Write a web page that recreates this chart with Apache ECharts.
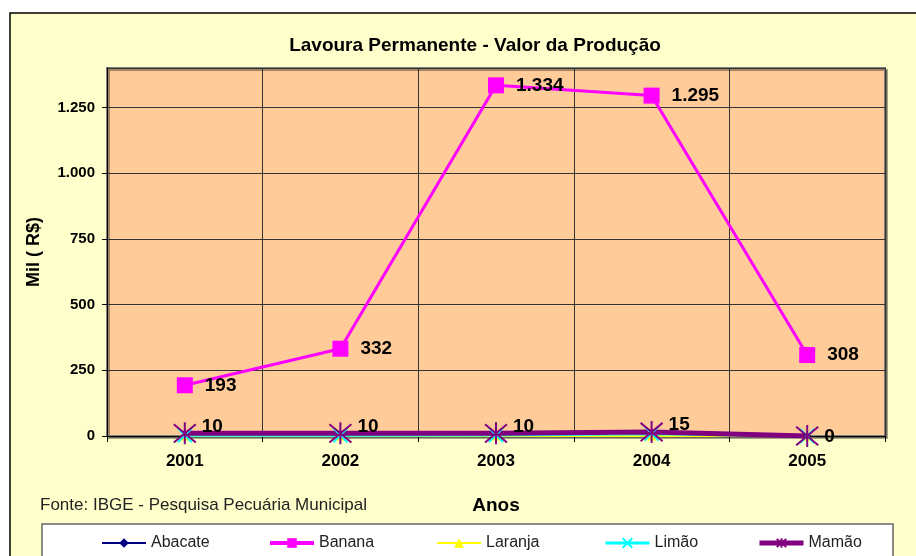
<!DOCTYPE html>
<html>
<head>
<meta charset="utf-8">
<script src="https://cdn.jsdelivr.net/npm/echarts@6/dist/echarts.min.js"></script>
<style>
html,body{margin:0;padding:0;background:#fff;}
#c{width:916px;height:556px;}
</style>
</head>
<body>
<div id="c"></div>
<script>
var years = ['2001', '2002', '2003', '2004', '2005'];
var abacate = [0, 0, 0, 0, 0];
var banana = [193, 332, 1334, 1295, 308];
var laranja = [0, 0, 0, 0, 0];
var limao = [3, 3, 4, 9, 0];
var mamao = [10, 10, 10, 15, 0];
var yTicks = [0, 250, 500, 750, 1000, 1250];

function fmt(v) {
  return String(v).replace(/\B(?=(\d{3})+(?!\d))/g, '.');
}

var FONT = '"Liberation Sans", Arial, sans-serif';
var chart = echarts.init(document.getElementById('c'));

var mamaoData = mamao.map(function (v, i) {
  return { value: v, label: { offset: i < mamao.length - 1 ? [0, -7] : [0, 1] } };
});

var asterisk = 'path://M0,0L10,10M10,0L0,10M5,-1L5,11';
var cross = 'path://M0,0L10,10M10,0L0,10';

function legendAt(x, name, lw) {
  return {
    left: x, top: 535, padding: 0, data: [name],
    itemWidth: 44, itemHeight: 12, itemGap: 4,
    lineStyle: { width: lw },
    textStyle: { fontFamily: FONT, fontSize: 16, color: '#222' }
  };
}

chart.setOption({
  backgroundColor: '#ffffff',
  animation: false,
  title: {
    text: 'Lavoura Permanente - Valor da Produção',
    left: 475, top: 36, textAlign: 'center', padding: 0,
    textStyle: { fontFamily: FONT, fontSize: 19, fontWeight: 'bold', color: '#000' }
  },
  graphic: [
    { type: 'rect', z: -10, shape: { x: 10, y: 13, width: 930, height: 560 },
      style: { fill: '#FFFFCC', stroke: '#000', lineWidth: 1.5 } },
    { type: 'rect', z: 1, shape: { x: 42, y: 524, width: 851, height: 50 },
      style: { fill: '#ffffff', stroke: '#666', lineWidth: 1.5 } },
    { type: 'text', left: 40, top: 497, z: 2,
      style: { text: 'Fonte: IBGE - Pesquisa Pecuária Municipal', font: '17px ' + FONT, fill: '#222' } }
  ],
  legend: [
    legendAt(101, 'Abacate', 2),
    legendAt(268, 'Banana', 4),
    legendAt(436, 'Laranja', 2),
    legendAt(604, 'Limão', 3),
    legendAt(757, 'Mamão', 5)
  ],
  grid: {
    left: 107, top: 68, width: 778, height: 368,
    show: true, backgroundColor: '#FFCC99',
    borderColor: '#808080', borderWidth: 2,
    shadowColor: 'rgba(0,0,0,0.35)', shadowOffsetX: 2, shadowOffsetY: 2, shadowBlur: 0
  },
  xAxis: {
    type: 'category', data: years, boundaryGap: true,
    name: 'Anos', nameLocation: 'middle', nameGap: 60,
    nameTextStyle: { fontFamily: FONT, fontSize: 19, fontWeight: 'bold', color: '#000' },
    axisLine: { lineStyle: { color: '#000', width: 1 } },
    axisTick: { show: true, length: 6, lineStyle: { color: '#000' } },
    axisLabel: { fontFamily: FONT, fontSize: 17, fontWeight: 'bold', color: '#000', margin: 17 },
    splitLine: { show: true, lineStyle: { color: '#333', width: 1 } }
  },
  yAxis: {
    type: 'value', min: 0, max: 1400, interval: 250,
    name: 'Mil ( R$)', nameLocation: 'middle', nameRotate: 90, nameGap: 64,
    nameTextStyle: { fontFamily: FONT, fontSize: 18, fontWeight: 'bold', color: '#000' },
    axisLine: { show: true, lineStyle: { color: '#000', width: 1 } },
    axisTick: { show: true, length: 5, lineStyle: { color: '#000' } },
    axisLabel: {
      fontFamily: FONT, fontSize: 15, fontWeight: 'bold', color: '#000', margin: 12,
      showMaxLabel: false,
      formatter: function (v) { return yTicks.indexOf(v) >= 0 ? fmt(v) : ''; }
    },
    splitLine: { show: true, lineStyle: { color: '#333', width: 1 } }
  },
  series: [
    { name: 'Abacate', type: 'line', data: abacate, symbol: 'diamond', symbolSize: 8,
      itemStyle: { color: '#000080' }, lineStyle: { color: '#000080', width: 2 } },
    { name: 'Banana', type: 'line', data: banana, symbol: 'rect', symbolSize: 16,
      itemStyle: { color: '#FF00FF' }, lineStyle: { color: '#FF00FF', width: 3 },
      label: { show: true, position: 'right', distance: 12, formatter: function (p) { return fmt(p.value); },
        fontFamily: FONT, fontSize: 19, fontWeight: 'bold', color: '#000' } },
    { name: 'Laranja', type: 'line', data: laranja, symbol: 'triangle', symbolSize: 9,
      itemStyle: { color: '#FFFF00' }, lineStyle: { color: '#FFFF00', width: 2 } },
    { name: 'Limão', type: 'line', data: limao, symbol: cross, symbolSize: 14,
      itemStyle: { color: '#00FFFF', borderColor: '#00FFFF', borderWidth: 2 },
      lineStyle: { color: '#00FFFF', width: 3 } },
    { name: 'Mamão', type: 'line', data: mamaoData, symbol: asterisk, symbolSize: 22,
      itemStyle: { color: '#800080', borderColor: '#800080', borderWidth: 2 },
      lineStyle: { color: '#800080', width: 5 },
      label: { show: true, position: 'right', distance: 5, formatter: function (p) { return fmt(p.value); },
        fontFamily: FONT, fontSize: 19, fontWeight: 'bold', color: '#000' } }
  ]
});
</script>
</body>
</html>
